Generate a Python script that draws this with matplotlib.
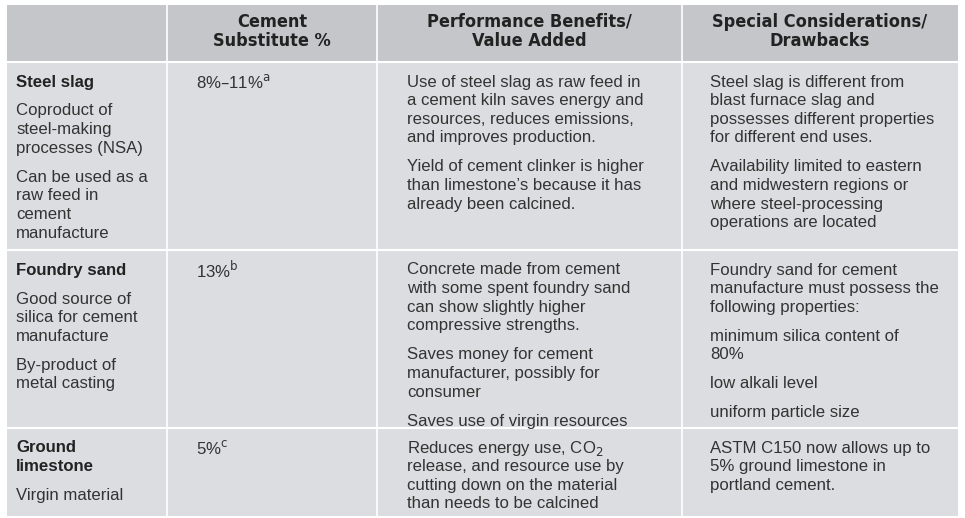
import matplotlib
matplotlib.use('Agg')
import matplotlib.pyplot as plt
from matplotlib import font_manager

# ---- table content ----
headers = [["Cement", "Substitute %"],
           ["Performance Benefits/", "Value Added"],
           ["Special Considerations/", "Drawbacks"]]

# each cell: list of paragraphs, each paragraph a list of lines
rows = [
    {
        "name": ["Steel slag"],
        "col1": [["Coproduct of", "steel-making", "processes (NSA)"],
                 ["Can be used as a", "raw feed in", "cement", "manufacture"]],
        "pct": r"8%–11%$^{\rm a}$",
        "col3": [["Use of steel slag as raw feed in", "a cement kiln saves energy and",
                  "resources, reduces emissions,", "and improves production."],
                 ["Yield of cement clinker is higher", "than limestone’s because it has",
                  "already been calcined."]],
        "col4": [["Steel slag is different from", "blast furnace slag and",
                  "possesses different properties", "for different end uses."],
                 ["Availability limited to eastern", "and midwestern regions or",
                  "where steel-processing", "operations are located"]],
    },
    {
        "name": ["Foundry sand"],
        "col1": [["Good source of", "silica for cement", "manufacture"],
                 ["By-product of", "metal casting"]],
        "pct": r"13%$^{\rm b}$",
        "col3": [["Concrete made from cement", "with some spent foundry sand",
                  "can show slightly higher", "compressive strengths."],
                 ["Saves money for cement", "manufacturer, possibly for", "consumer"],
                 ["Saves use of virgin resources"]],
        "col4": [["Foundry sand for cement", "manufacture must possess the",
                  "following properties:"],
                 ["minimum silica content of", "80%"],
                 ["low alkali level"],
                 ["uniform particle size"]],
    },
    {
        "name": ["Ground", "limestone"],
        "col1": [["Virgin material"]],
        "pct": r"5%$^{\rm c}$",
        "col3": [["Reduces energy use, CO$_2$", "release, and resource use by",
                  "cutting down on the material", "than needs to be calcined"]],
        "col4": [["ASTM C150 now allows up to", "5% ground limestone in",
                  "portland cement."]],
    },
]

col_edges = [7, 167, 377, 682, 958]
row_edges = [5, 62, 250, 428, 516]

LINE = 18.6
PARA = 10.4
TXT = '#333333'
BODY_FS = 12.1

names = {f.name for f in font_manager.fontManager.ttflist}
if 'Liberation Sans Narrow' in names:
    head_kw = dict(family='Liberation Sans Narrow')
elif 'DejaVu Sans Condensed' in names:
    head_kw = dict(family='DejaVu Sans Condensed')
else:
    head_kw = dict(family='DejaVu Sans', fontstretch='condensed')
body_font = 'Liberation Sans'

fig = plt.figure(figsize=(9.65, 5.18), dpi=100)
ax = fig.add_axes([0, 0, 1, 1])
ax.set_xlim(0, 965)
ax.set_ylim(518, 0)
ax.axis('off')

# backgrounds
ax.add_patch(plt.Rectangle((col_edges[0], row_edges[0]), col_edges[-1] - col_edges[0],
                           row_edges[1] - row_edges[0], color='#c5c6c9', lw=0))
ax.add_patch(plt.Rectangle((col_edges[0], row_edges[1]), col_edges[-1] - col_edges[0],
                           row_edges[-1] - row_edges[1], color='#dcdde0', lw=0))
for x in col_edges[1:-1]:
    ax.plot([x, x], [row_edges[0], row_edges[-1]], color='white', lw=1.2)
for y in row_edges[1:-1]:
    ax.plot([col_edges[0], col_edges[-1]], [y, y], color='white', lw=1.5)

# headers
for i, lines in enumerate(headers):
    cx = (col_edges[i + 1] + col_edges[i + 2]) / 2
    for k, ln in enumerate(lines):
        ax.text(cx, 22 + k * 19, ln, ha='center', va='center', fontsize=13,
                fontweight='bold', color='#222222', **head_kw)


def draw_paras(x, y, paras):
    for p in paras:
        for ln in p:
            ax.text(x, y, ln, ha='left', va='center', fontsize=BODY_FS,
                    family=body_font, color=TXT)
            y += LINE
        y += PARA


for r, row in enumerate(rows):
    y0 = row_edges[r + 1] + 20
    x1 = col_edges[0] + 9
    y = y0
    for ln in row["name"]:
        ax.text(x1, y, ln, ha='left', va='center', fontsize=BODY_FS, fontweight='bold',
                family=body_font, color='#222222')
        y += LINE
    draw_paras(x1, y + PARA, row["col1"])
    ax.text(col_edges[1] + 29, y0, row["pct"], ha='left', va='center', fontsize=BODY_FS,
            family=body_font, color=TXT)
    draw_paras(col_edges[2] + 30, y0, row["col3"])
    draw_paras(col_edges[3] + 28, y0, row["col4"])

fig.savefig('out.png', dpi=100)
